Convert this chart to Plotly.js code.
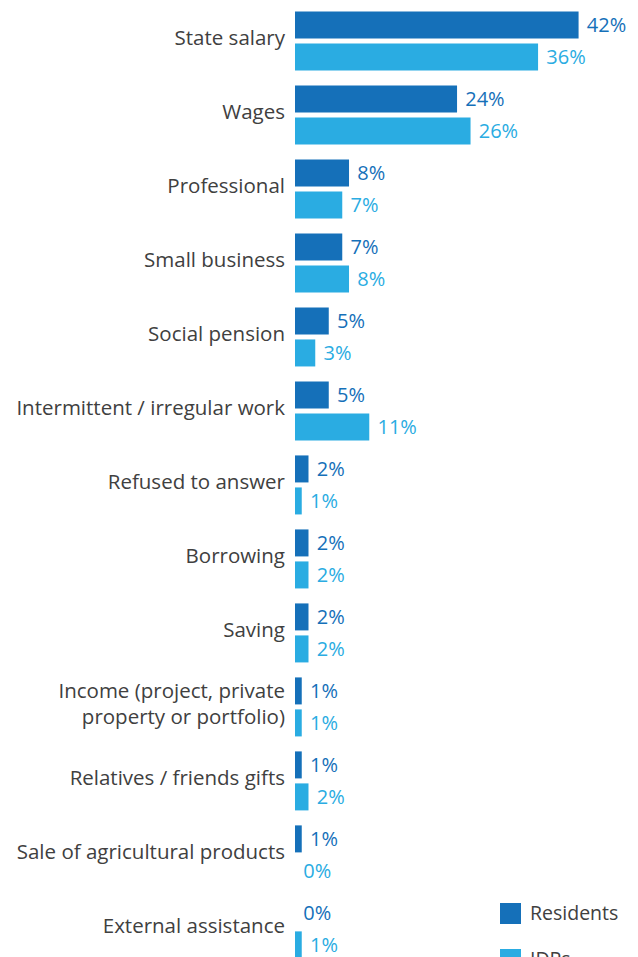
<!DOCTYPE html>
<html>
<head>
<meta charset="utf-8">
<script src="https://cdn.plot.ly/plotly-3.0.1.min.js"></script>
<style>html,body{margin:0;padding:0;background:#fff;}#chart{width:638px;height:957px;}</style>
</head>
<body>
<div id="chart"></div>
<script>
const categories = [
  "State salary",
  "Wages",
  "Professional",
  "Small business",
  "Social pension",
  "Intermittent / irregular work",
  "Refused to answer",
  "Borrowing",
  "Saving",
  "Income (project, private<br>property or portfolio)",
  "Relatives / friends gifts",
  "Sale of agricultural products",
  "External assistance"
];
const residents = [42, 24, 8, 7, 5, 5, 2, 2, 2, 1, 1, 1, 0];
const idps = [36, 26, 7, 8, 3, 11, 1, 2, 2, 1, 2, 0, 1];
const seriesNames = ["Residents", "IDPs"];

const C_RES = "#1570b9";
const C_IDP = "#2aace2";
const FONT = "Open Sans, Noto Sans, sans-serif";

function barTrace(name, vals, color) {
  return {
    type: "bar",
    orientation: "h",
    name: name,
    y: categories,
    x: vals,
    marker: {color: color},
    text: vals.map(v => "\u00a0" + v + "%"),
    textposition: "outside",
    textfont: {family: FONT, size: 20, color: color},
    cliponaxis: false,
    hoverinfo: "x+y+name"
  };
}

const data = [
  barTrace(seriesNames[0], residents, C_RES),
  barTrace(seriesNames[1], idps, C_IDP)
];

const W = 638, H = 957, L = 295, R = 0, T = 4, B = 0;
const pw = W - L - R, ph = H - T - B;
function px(x) { return (x - L) / pw; }
function py(y) { return (H - B - y) / ph; }

const legendColors = [C_RES, C_IDP];
const legendTop = [903, 949];
const shapes = [], annotations = [];
seriesNames.forEach((n, i) => {
  shapes.push({type: "rect", xref: "paper", yref: "paper",
    x0: px(500), x1: px(521), y0: py(legendTop[i]), y1: py(legendTop[i] + 21),
    fillcolor: legendColors[i], line: {width: 0}});
  annotations.push({xref: "paper", yref: "paper", x: px(528), y: py(legendTop[i] + 9),
    xanchor: "left", yanchor: "middle", text: n, showarrow: false,
    font: {family: FONT, size: 19.5, color: "#404040"}});
});

const layout = {
  width: W, height: H,
  margin: {l: L, r: R, t: T, b: B, pad: 0},
  paper_bgcolor: "#ffffff",
  plot_bgcolor: "#ffffff",
  barmode: "group",
  bargap: 0.135,
  bargroupgap: 0.156,
  showlegend: false,
  font: {family: FONT, color: "#404040"},
  xaxis: {range: [0, 50.8], visible: false, fixedrange: true},
  yaxis: {
    type: "category",
    range: [12.38, -0.5],
    autorange: false,
    showgrid: false, zeroline: false, showline: false,
    ticks: "", ticklabelstandoff: 9, ticklabelshift: 3,
    tickfont: {family: FONT, size: 20.5, color: "#404040"}
  },
  shapes: shapes,
  annotations: annotations
};

Plotly.newPlot("chart", data, layout, {displayModeBar: false, staticPlot: true});
</script>
</body>
</html>
